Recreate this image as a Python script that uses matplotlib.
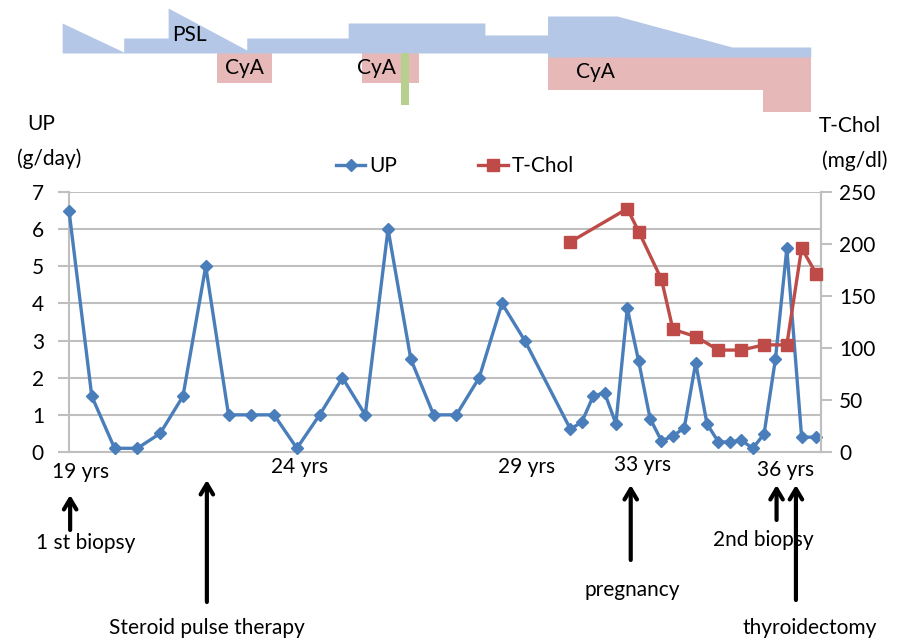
import numpy as np
import matplotlib
matplotlib.use("Agg")
import matplotlib.pyplot as plt
import matplotlib.transforms as mtransforms

plt.rcParams['font.family'] = ['Lato', 'DejaVu Sans']
plt.rcParams['font.size'] = 15

# time index (3-month steps from age 19)
up_x = [0, 2, 4, 6, 8, 10, 12, 14, 16, 18, 20, 22, 24, 26, 28, 30, 32, 34, 36, 38, 40,
        44, 45, 46, 47, 48, 49, 50, 51, 52, 53, 54, 55, 56, 57, 58, 59, 60, 61, 62, 63,
        64.3, 65.6]
up_val = [6.5, 1.5, 0.1, 0.1, 0.5, 1.5, 5.0, 1.0, 1.0, 1.0, 0.1, 1.0, 2.0, 1.0, 6.0, 2.5,
          1.0, 1.0, 2.0, 4.0, 3.0,
          0.62, 0.8, 1.5, 1.6, 0.76, 3.87, 2.44, 0.9, 0.3, 0.43, 0.65, 2.4, 0.75, 0.27,
          0.27, 0.32, 0.1, 0.48, 2.5, 5.48, 0.4, 0.4]

chol_x = [44, 49, 50, 52, 53, 55, 57, 59, 61, 63, 64.3, 65.6]
chol_val = [202, 234, 212, 166, 118, 111, 98, 98, 103, 103, 196, 171]

# treatment schedule (arbitrary dose units, baseline 0)
psl_x = [-0.6, 4.8, 4.8, 8.7, 8.7, 15.6, 15.6, 24.5, 24.5, 36.5, 36.5, 42.0, 42.0, 48.1, 58.2, 65.1]
psl_dose = [30, 1, 15, 15, 45, 3, 15, 15, 30, 30, 18, 18, 37, 37, 6, 6]
psl_base = [0] * 12 + [-4] * 4
cya_periods = [(13.0, 17.8, 0, -30), (25.7, 30.7, 0, -30),
               (42.0, 65.1, -4, -37), (60.9, 65.1, -37, -59)]
green_period = (29.1, 29.8, 0, -52)

age_labels = ['19 yrs', '24 yrs', '29 yrs', '33 yrs', '36 yrs']
age_x = [1.0, 20.2, 40.2, 50.3, 62.9]

events = ['1 st biopsy', 'Steroid pulse therapy', 'pregnancy', '2nd biopsy', 'thyroidectomy']
event_x = [0.1, 12.1, 49.3, 62.1, 63.8]

W, H = 898, 644
fig = plt.figure(figsize=(W / 100, H / 100), dpi=100)


def fx(px):
    return px / W


def fy(py):
    return 1 - py / H


blue = '#4A7EBB'
red = '#BE4B48'
grid = '#BFBFBF'

ax = fig.add_axes([fx(69), fy(452), fx(821) - fx(69), fy(192) - fy(452)])
ax2 = ax.twinx()

ax.set_xlim(0, 66)
ax.set_ylim(0, 7)
ax.set_yticks(range(0, 8))
ax.yaxis.grid(True, color=grid, lw=1.5)
ax.set_axisbelow(True)
ax.set_xticks([])
ax.spines['top'].set_visible(False)
for s in ['left', 'bottom', 'right']:
    ax.spines[s].set_color(grid)
    ax.spines[s].set_linewidth(1.5)
ax.tick_params(axis='y', length=8, width=1.5, color=grid, pad=10)

ax2.set_ylim(0, 250)
ax2.set_yticks(range(0, 251, 50))
ax2.tick_params(axis='y', length=8, width=1.5, color=grid, pad=5)
for s in ['top', 'left', 'bottom']:
    ax2.spines[s].set_visible(False)
ax2.spines['right'].set_color(grid)
ax2.spines['right'].set_linewidth(1.5)

l1, = ax.plot(up_x, up_val, color=blue, lw=2.4, marker='D', ms=6.5, clip_on=False,
              zorder=5, label='UP')
l2, = ax2.plot(chol_x, chol_val, color=red, lw=2.4, marker='s', ms=8.5, clip_on=False,
               zorder=5, label='T-Chol')

fig.legend([l1, l2], ['UP', 'T-Chol'], loc='center', bbox_to_anchor=(fx(455), fy(166)),
           ncol=2, frameon=False, handlelength=1.4, handletextpad=0.2,
           columnspacing=3.9, fontsize=15)

fig.text(fx(41), fy(124), 'UP', ha='center', va='center')
fig.text(fx(49), fy(159), '(g/day)', ha='center', va='center')
fig.text(fx(850), fy(126), 'T-Chol', ha='center', va='center')
fig.text(fx(855), fy(161), '(mg/dl)', ha='center', va='center')

# x labels and event arrows
bt = mtransforms.blended_transform_factory(ax.transData, fig.transFigure)
label_y = [472, 467, 467, 465, 470]
for lab, x, y in zip(age_labels, age_x, label_y):
    ax.text(x, fy(y), lab, transform=bt, ha='center', va='center')

arrow_tip = [495, 480, 485, 485, 485]
arrow_base = [530, 602, 560, 520, 600]
text_pos = [(86, 543), (207, 628), (632, 590), (763, 540), (810, 628)]
for ev, x, tip, base, (tx, ty) in zip(events, event_x, arrow_tip, arrow_base, text_pos):
    ax.annotate('', xy=(x, fy(tip)), xytext=(x, fy(base)), xycoords=bt, textcoords=bt,
                arrowprops=dict(arrowstyle='->,head_length=0.5,head_width=0.3', lw=3,
                                color='black', shrinkA=0, shrinkB=0))
    fig.text(fx(tx), fy(ty), ev, ha='center', va='center')

# treatment panel
axt = fig.add_axes([fx(69), fy(115), fx(821) - fx(69), fy(0) - fy(115)])
axt.set_xlim(0, 66)
axt.set_ylim(-62, 53)
axt.axis('off')
axt.fill_between(psl_x, psl_base, psl_dose, color='#B4C7E7', lw=0, clip_on=False, zorder=2)
for x0, x1, top, bot in cya_periods:
    axt.fill_between([x0, x1], [bot, bot], [top, top], color='#E6B9B8', lw=0,
                     clip_on=False, zorder=1)
gx0, gx1, gtop, gbot = green_period
axt.fill_between([gx0, gx1], [gbot, gbot], [gtop, gtop], color='#B7D08F', lw=0, zorder=3)
axt.text(10.6, 18, 'PSL', ha='center', va='center', zorder=4)
axt.text(15.4, -15, 'CyA', ha='center', va='center', zorder=4)
axt.text(27.0, -15, 'CyA', ha='center', va='center', zorder=4)
axt.text(46.2, -19, 'CyA', ha='center', va='center', zorder=4)

fig.savefig('out.png', dpi=100)
